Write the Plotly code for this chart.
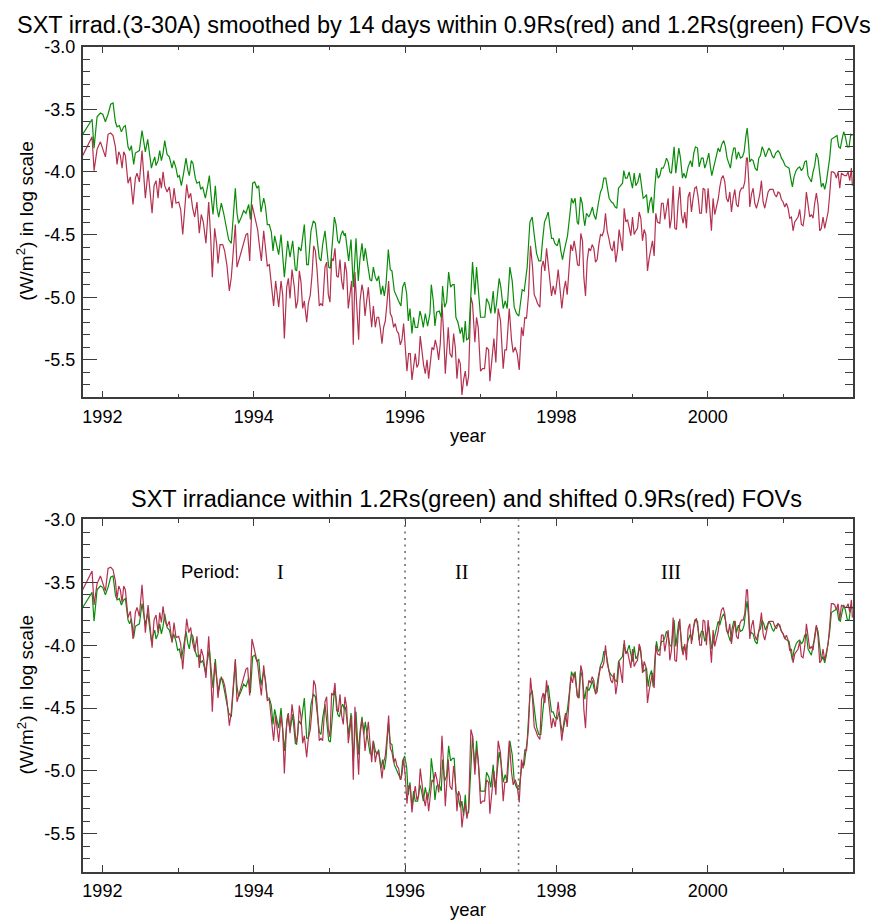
import numpy as np
import plotly.graph_objects as go

# ---------------- data ----------------
year_g = [1991.74, 1991.864, 1991.890, 1991.930, 1991.974, 1992.005, 1992.040, 1992.075, 1992.110, 1992.141,
          1992.172, 1992.194, 1992.225, 1992.251, 1992.282, 1992.304, 1992.339, 1992.361, 1992.383, 1992.414,
          1992.436, 1992.458, 1992.489, 1992.524, 1992.546, 1992.568, 1992.599, 1992.626, 1992.648, 1992.665,
          1992.692, 1992.709, 1992.736, 1992.758, 1992.780, 1992.802, 1992.824, 1992.855, 1992.885, 1992.921,
          1992.943, 1992.973, 1992.995, 1993.017, 1993.044, 1993.074, 1993.105, 1993.131, 1993.149, 1993.175,
          1993.197, 1993.228, 1993.250, 1993.281, 1993.299, 1993.325, 1993.361, 1993.392, 1993.414, 1993.440,
          1993.462, 1993.493, 1993.515, 1993.537, 1993.572, 1993.603, 1993.634, 1993.669, 1993.704, 1993.735,
          1993.757, 1993.779, 1993.801, 1993.837, 1993.867, 1993.898, 1993.934, 1993.956, 1993.986, 1994.013,
          1994.044, 1994.066, 1994.096, 1994.132, 1994.154, 1994.180, 1994.206, 1994.233, 1994.255, 1994.277,
          1994.330, 1994.361, 1994.405, 1994.449, 1994.480, 1994.515, 1994.550, 1994.568, 1994.594, 1994.625,
          1994.669, 1994.700, 1994.722, 1994.757, 1994.788, 1994.815, 1994.845, 1994.867, 1994.889, 1994.911,
          1994.942, 1994.964, 1994.991, 1995.013, 1995.035, 1995.066, 1995.088, 1995.110, 1995.132, 1995.154,
          1995.176, 1995.198, 1995.211, 1995.233, 1995.255, 1995.286, 1995.316, 1995.352, 1995.382, 1995.405,
          1995.431, 1995.453, 1995.475, 1995.506, 1995.537, 1995.559, 1995.581, 1995.607, 1995.629, 1995.651,
          1995.682, 1995.704, 1995.726, 1995.748, 1995.779, 1995.805, 1995.827, 1995.858, 1995.889, 1995.915,
          1995.946, 1995.968, 1995.995, 1996.021, 1996.043, 1996.065, 1996.091, 1996.113, 1996.135, 1996.166,
          1996.197, 1996.219, 1996.241, 1996.268, 1996.298, 1996.329, 1996.347, 1996.373, 1996.395, 1996.417,
          1996.452, 1996.479, 1996.496, 1996.523, 1996.549, 1996.576, 1996.602, 1996.628, 1996.650, 1996.672,
          1996.699, 1996.730, 1996.752, 1996.774, 1996.796, 1996.813, 1996.840,
          1996.870, 1996.892, 1996.914, 1996.923, 1996.945, 1996.998, 1997.055, 1997.077, 1997.108, 1997.134,
          1997.165, 1997.187, 1997.209, 1997.244, 1997.266, 1997.297, 1997.324, 1997.350, 1997.385, 1997.416,
          1997.443, 1997.473, 1997.504, 1997.526, 1997.548, 1997.575, 1997.597, 1997.614, 1997.650, 1997.680,
          1997.707, 1997.738, 1997.768, 1997.795, 1997.817, 1997.843, 1997.870, 1997.892, 1997.914, 1997.936,
          1997.958, 1997.980, 1998.011, 1998.037, 1998.059, 1998.081, 1998.103, 1998.125, 1998.147, 1998.178,
          1998.200, 1998.222, 1998.248, 1998.275, 1998.292, 1998.319, 1998.341, 1998.363, 1998.376, 1998.398,
          1998.429, 1998.451, 1998.477, 1998.495, 1998.521, 1998.552, 1998.583, 1998.605, 1998.627, 1998.653,
          1998.671, 1998.697, 1998.728, 1998.750, 1998.777, 1998.799, 1998.821, 1998.847, 1998.874, 1998.891,
          1998.913, 1998.935, 1998.962, 1998.984, 1999.006, 1999.028, 1999.050, 1999.076, 1999.103, 1999.125,
          1999.147, 1999.169, 1999.191, 1999.213, 1999.235, 1999.257, 1999.279, 1999.301, 1999.323, 1999.345,
          1999.367, 1999.389, 1999.411, 1999.433, 1999.455, 1999.477, 1999.499, 1999.521, 1999.543, 1999.556,
          1999.578, 1999.600, 1999.618, 1999.640, 1999.666, 1999.684, 1999.710, 1999.741, 1999.772, 1999.794,
          1999.816, 1999.838, 1999.865, 1999.887, 1999.917, 1999.939, 1999.961, 1999.983, 2000.014, 2000.036,
          2000.054, 2000.080, 2000.107, 2000.138, 2000.160, 2000.186, 2000.212, 2000.234, 2000.256, 2000.278,
          2000.300, 2000.322, 2000.344, 2000.362, 2000.380, 2000.406, 2000.433, 2000.459, 2000.481, 2000.503,
          2000.521, 2000.538, 2000.556, 2000.578, 2000.600, 2000.626, 2000.653, 2000.675, 2000.697, 2000.719,
          2000.741, 2000.763, 2000.785, 2000.807, 2000.829, 2000.851, 2000.873, 2000.899, 2000.930, 2000.952,
          2000.974, 2000.996, 2001.023, 2001.049, 2001.075, 2001.097, 2001.119, 2001.141, 2001.168, 2001.190,
          2001.216, 2001.238, 2001.260, 2001.282, 2001.304, 2001.326, 2001.348, 2001.370, 2001.392, 2001.414,
          2001.436, 2001.458, 2001.480, 2001.502, 2001.524, 2001.546, 2001.568, 2001.591, 2001.612, 2001.634,
          2001.657, 2001.687, 2001.709, 2001.731, 2001.753, 2001.775, 2001.797, 2001.819, 2001.846, 2001.868,
          2001.890, 2001.912]
val_g = [-3.70, -3.58, -3.81, -3.56, -3.53, -3.54, -3.60, -3.54, -3.46, -3.45,
         -3.60, -3.64, -3.63, -3.68, -3.64, -3.63, -3.80, -3.83, -3.79, -3.94,
         -3.85, -3.84, -3.83, -3.67, -3.78, -3.84, -3.74, -3.85, -3.97, -3.93,
         -3.88, -3.95, -3.91, -3.83, -3.91, -3.85, -3.75, -3.86, -3.88, -3.97,
         -3.91, -3.97, -4.04, -4.03, -4.11, -4.01, -3.89, -3.99, -4.03, -3.91,
         -3.93, -4.05, -4.09, -4.08, -4.14, -4.12, -4.21, -4.11, -4.03, -4.21,
         -4.34, -4.11, -4.29, -4.36, -4.25, -4.33, -4.42, -4.54, -4.57, -4.34,
         -4.13, -4.33, -4.41, -4.36, -4.31, -4.33, -4.26, -4.38, -4.09, -4.08,
         -4.13, -4.11, -4.32, -4.21, -4.27, -4.42, -4.42, -4.48, -4.63, -4.51,
         -4.66, -4.50, -4.84, -4.55, -4.68, -4.55, -4.78, -4.79, -4.60, -4.63,
         -4.42, -4.74, -4.74, -4.47, -4.39, -4.41, -4.58, -4.69, -4.71, -4.58,
         -4.47, -4.63, -4.76, -4.77, -4.58, -4.36, -4.42, -4.55, -4.57, -4.50,
         -4.47, -4.51, -4.49, -4.58, -4.71, -4.54, -4.92, -4.53, -4.87, -4.69,
         -4.57, -4.71, -4.61, -4.74, -4.86, -4.87, -4.76, -4.84, -4.87, -4.83,
         -4.98, -4.91, -4.99, -4.90, -4.62, -4.78, -4.79, -4.95, -5.00, -5.03,
         -5.07, -4.92, -4.88, -4.97, -5.19, -5.09, -5.29, -5.16, -5.24, -5.24,
         -5.11, -5.16, -5.24, -5.13, -5.23, -5.13, -4.90, -5.03, -5.23, -5.12,
         -5.11, -5.16, -4.91, -5.08, -5.04, -4.80, -4.92, -4.90, -4.90, -5.16,
         -5.20, -5.29, -5.24, -5.36, -5.19, -5.34, -5.33,
         -4.98, -4.72, -4.90, -4.98, -4.76, -5.16, -5.16, -5.01, -5.05, -5.13,
         -4.95, -5.13, -5.05, -4.85, -4.92, -5.09, -5.03, -5.09, -4.76, -4.87,
         -5.08, -5.13, -5.15, -5.05, -4.94, -4.95, -4.84, -4.76, -4.40, -4.36,
         -4.50, -4.65, -4.71, -4.71, -4.55, -4.40, -4.36, -4.32, -4.43, -4.53,
         -4.53, -4.57, -4.59, -4.53, -4.63, -4.70, -4.63, -4.57, -4.51, -4.34,
         -4.21, -4.25, -4.21, -4.40, -4.42, -4.20, -4.25, -4.38, -4.43, -4.33,
         -4.36, -4.33, -4.28, -4.34, -4.38, -4.26, -4.16, -4.13, -4.05, -4.05,
         -4.13, -4.21, -4.24, -4.25, -4.28, -4.29, -4.13, -4.11, -4.09, -3.99,
         -4.05, -4.05, -4.00, -4.07, -4.13, -4.01, -4.11, -4.08, -4.01, -4.11,
         -4.21, -4.20, -4.18, -4.33, -4.24, -4.20, -4.33, -4.12, -3.97, -4.05,
         -4.03, -3.97, -3.97, -3.94, -3.89, -3.92, -4.00, -4.01, -3.88, -3.80,
         -4.01, -3.89, -3.81, -3.89, -4.05, -4.01, -4.05, -3.96, -3.91, -3.96,
         -3.85, -3.80, -3.81, -3.96, -3.89, -3.89, -3.97, -3.93, -3.85, -3.96,
         -4.03, -3.96, -3.89, -3.81, -3.84, -3.78, -3.75, -3.80, -3.89, -3.93,
         -3.97, -3.87, -3.81, -3.81, -3.90, -3.84, -3.89, -3.88, -3.84, -3.72,
         -3.65, -3.76, -3.92, -3.90, -3.91, -3.97, -3.99, -3.89, -3.87, -3.80,
         -3.83, -3.88, -3.84, -3.81, -3.83, -3.87, -3.89, -3.85, -3.83, -3.85,
         -3.89, -3.91, -3.95, -3.96, -3.97, -4.05, -4.12, -4.04, -3.99, -3.97,
         -3.96, -3.99, -3.97, -3.92, -3.91, -4.03, -4.05, -4.08, -4.00, -3.95,
         -3.85, -3.89, -4.01, -4.12, -4.09, -4.14, -4.08, -3.99, -3.89, -3.74,
         -3.73, -3.72, -3.71, -3.80, -3.81, -3.74, -3.68, -3.72, -3.80, -3.80,
         -3.70, -3.71]

year_r = [1991.74, 1991.864, 1991.890, 1991.930, 1991.974, 1992.005, 1992.040, 1992.075, 1992.110, 1992.141,
          1992.172, 1992.194, 1992.216, 1992.238, 1992.260, 1992.282, 1992.304, 1992.339, 1992.370, 1992.405,
          1992.436, 1992.458, 1992.489, 1992.524, 1992.546, 1992.568, 1992.604, 1992.630, 1992.657, 1992.683,
          1992.709, 1992.736, 1992.758, 1992.780, 1992.802, 1992.824, 1992.855, 1992.885, 1992.921, 1992.947,
          1992.973, 1993.009, 1993.035, 1993.062, 1993.088, 1993.114, 1993.141, 1993.167, 1993.193, 1993.220,
          1993.250, 1993.281, 1993.307, 1993.334, 1993.369, 1993.405, 1993.432, 1993.453, 1993.484, 1993.511,
          1993.528, 1993.555, 1993.590, 1993.616, 1993.647, 1993.678, 1993.704, 1993.735, 1993.757, 1993.779,
          1993.801, 1993.837, 1993.867, 1993.898, 1993.920, 1993.947, 1993.977, 1994.004, 1994.030, 1994.052,
          1994.074, 1994.101, 1994.132, 1994.154, 1994.180, 1994.206, 1994.233, 1994.263, 1994.290,
          1994.330, 1994.361, 1994.383, 1994.405, 1994.436, 1994.458, 1994.480, 1994.506, 1994.537, 1994.559,
          1994.581, 1994.603, 1994.625, 1994.647, 1994.669, 1994.700, 1994.722, 1994.748, 1994.771, 1994.793,
          1994.815, 1994.837, 1994.867, 1994.889, 1994.911, 1994.942, 1994.964, 1994.986, 1995.008, 1995.030,
          1995.052, 1995.074, 1995.096, 1995.118, 1995.140, 1995.162, 1995.184, 1995.206, 1995.228, 1995.250,
          1995.272, 1995.294, 1995.316, 1995.338, 1995.360, 1995.387, 1995.405, 1995.431, 1995.449, 1995.471,
          1995.493, 1995.515, 1995.537, 1995.559, 1995.581, 1995.607, 1995.629, 1995.651, 1995.673, 1995.695,
          1995.717, 1995.739, 1995.761, 1995.783, 1995.805, 1995.827, 1995.849, 1995.871, 1995.893, 1995.915,
          1995.937, 1995.959, 1995.981, 1996.003, 1996.025, 1996.047, 1996.069, 1996.091, 1996.113, 1996.135,
          1996.157, 1996.179, 1996.201, 1996.224, 1996.245, 1996.268, 1996.290, 1996.312, 1996.334, 1996.356,
          1996.378, 1996.400, 1996.422, 1996.444, 1996.466, 1996.488, 1996.510, 1996.532, 1996.549, 1996.571,
          1996.593, 1996.620, 1996.642, 1996.664, 1996.686, 1996.708, 1996.730, 1996.752, 1996.774, 1996.796,
          1996.818, 1996.840,
          1996.870, 1996.892, 1996.923, 1996.945, 1996.967, 1996.998, 1997.024, 1997.051, 1997.077, 1997.104,
          1997.121, 1997.143, 1997.174, 1997.200, 1997.231, 1997.262, 1997.297, 1997.319, 1997.341, 1997.377,
          1997.407, 1997.429, 1997.456, 1997.482, 1997.509, 1997.539, 1997.561, 1997.583, 1997.605, 1997.632,
          1997.658, 1997.685, 1997.707, 1997.729, 1997.751, 1997.782, 1997.804, 1997.826, 1997.848, 1997.870,
          1997.892, 1997.914, 1997.936, 1997.958, 1997.984, 1998.002, 1998.024, 1998.046, 1998.072, 1998.099,
          1998.121, 1998.143, 1998.169, 1998.191, 1998.213, 1998.235, 1998.257, 1998.279, 1998.301, 1998.323,
          1998.345, 1998.363, 1998.385, 1998.407, 1998.429, 1998.451, 1998.473, 1998.495, 1998.517, 1998.539,
          1998.561, 1998.583, 1998.605, 1998.627, 1998.649, 1998.671, 1998.697, 1998.719, 1998.741, 1998.763,
          1998.785, 1998.807, 1998.829, 1998.851, 1998.874, 1998.896, 1998.918, 1998.940, 1998.962, 1998.984,
          1999.006, 1999.028, 1999.050, 1999.072, 1999.094, 1999.116, 1999.138, 1999.160, 1999.182, 1999.204,
          1999.226, 1999.248, 1999.270, 1999.292, 1999.314, 1999.336,
          1999.367, 1999.389, 1999.411, 1999.433, 1999.455, 1999.477, 1999.499, 1999.521, 1999.543, 1999.565,
          1999.587, 1999.609, 1999.631, 1999.653, 1999.675, 1999.697, 1999.719, 1999.741, 1999.763, 1999.785,
          1999.807, 1999.829, 1999.851, 1999.873, 1999.895, 1999.917, 1999.939, 1999.961, 1999.983, 2000.005,
          2000.027, 2000.049, 2000.071, 2000.093, 2000.115, 2000.138, 2000.160, 2000.182, 2000.204, 2000.226,
          2000.248, 2000.270, 2000.292, 2000.314, 2000.336, 2000.358, 2000.380, 2000.402, 2000.424, 2000.446,
          2000.468, 2000.490, 2000.512, 2000.525, 2000.543, 2000.556, 2000.578, 2000.600, 2000.622, 2000.644,
          2000.666, 2000.688, 2000.710, 2000.732, 2000.754, 2000.776, 2000.798, 2000.820, 2000.864, 2000.886,
          2000.908, 2000.930, 2000.952, 2000.974, 2000.996, 2001.018, 2001.040, 2001.062, 2001.084, 2001.106,
          2001.128, 2001.150, 2001.172, 2001.194, 2001.216, 2001.238, 2001.260, 2001.282, 2001.304, 2001.326,
          2001.348, 2001.370, 2001.392, 2001.414, 2001.436, 2001.458, 2001.480, 2001.502, 2001.524, 2001.546,
          2001.568, 2001.591, 2001.612, 2001.634, 2001.657, 2001.679, 2001.700, 2001.723, 2001.745, 2001.767,
          2001.789, 2001.811, 2001.833, 2001.855, 2001.877, 2001.899, 2001.912]
val_r = [-3.87, -3.72, -3.99, -3.82, -3.76, -3.81, -3.88, -3.70, -3.69, -3.71,
         -3.80, -3.94, -3.84, -3.87, -3.97, -3.84, -3.87, -4.09, -4.04, -4.26,
         -4.05, -4.01, -4.08, -3.83, -4.00, -4.21, -3.99, -4.16, -4.33, -4.11,
         -4.07, -4.21, -4.05, -4.13, -4.00, -4.11, -4.16, -4.12, -4.29, -4.13,
         -4.25, -4.24, -4.30, -4.50, -4.26, -4.10, -4.21, -4.17, -4.29, -4.36,
         -4.24, -4.49, -4.34, -4.40, -4.57, -4.24, -4.53, -4.84, -4.45, -4.58,
         -4.73, -4.58, -4.58, -4.63, -4.75, -4.95, -4.84, -4.61, -4.42, -4.76,
         -4.71, -4.65, -4.58, -4.50, -4.49, -4.71, -4.26, -4.33, -4.42, -4.46,
         -4.58, -4.71, -4.47, -4.58, -4.75, -4.74, -4.92, -5.07, -4.87,
         -5.08, -4.87, -4.98, -5.33, -4.92, -4.85, -5.01, -4.78, -4.92, -5.09,
         -5.03, -4.79, -4.88, -5.09, -5.03, -5.20, -5.05, -4.98, -4.82, -4.59,
         -4.63, -4.78, -5.07, -5.05, -5.07, -4.76, -4.72, -4.98, -5.04, -4.69,
         -4.71, -4.61, -4.83, -4.84, -4.70, -4.87, -4.94, -4.72, -4.80, -5.09,
         -4.98, -4.87, -5.38, -4.80, -5.05, -5.34, -5.03, -4.90, -4.96, -5.15,
         -5.03, -4.92, -5.09, -5.24, -5.07, -5.24, -5.16, -5.16, -5.25, -5.37,
         -5.24, -5.19, -5.05, -4.87, -5.13, -5.16, -5.24, -5.21, -5.27, -5.29,
         -5.38, -5.34, -5.21, -5.37, -5.59, -5.45, -5.45, -5.66, -5.54, -5.45,
         -5.56, -5.53, -5.31, -5.45, -5.54, -5.61, -5.50, -5.65, -5.53, -5.40,
         -5.42, -5.34, -5.40, -5.50, -5.37, -5.05, -5.29, -5.61, -5.45, -5.24,
         -5.45, -5.48, -5.29, -5.40, -5.65, -5.49, -5.53, -5.78, -5.66, -5.59,
         -5.71, -5.63,
         -5.00, -5.05, -5.36, -5.16, -5.24, -5.59, -5.57, -5.57, -5.40, -5.42,
         -5.67, -5.53, -5.33, -5.52, -5.09, -5.19, -5.57, -5.42, -5.42, -5.09,
         -5.34, -5.44, -5.40, -5.45, -5.58, -5.24, -5.31, -5.16, -5.17, -4.98,
         -4.59, -4.76, -4.98, -5.01, -5.05, -5.08, -4.76, -4.71, -4.79, -4.61,
         -4.74, -4.88, -4.99, -4.91, -4.98, -4.90, -4.78, -4.92, -5.09, -4.94,
         -4.87, -4.98, -4.76, -4.58, -4.63, -4.55, -4.63, -4.74, -4.75, -4.49,
         -4.55, -4.84, -4.99, -4.71, -4.61, -4.63, -4.58, -4.61, -4.72, -4.70,
         -4.58, -4.50, -4.51, -4.47, -4.33, -4.47, -4.54, -4.61, -4.63, -4.55,
         -4.72, -4.63, -4.46, -4.55, -4.63, -4.29, -4.40, -4.38, -4.45, -4.51,
         -4.36, -4.50, -4.47, -4.45, -4.32, -4.37, -4.55, -4.46, -4.50, -4.79,
         -4.69, -4.63, -4.55, -4.67, -4.33, -4.40,
         -4.41, -4.25, -4.25, -4.38, -4.30, -4.21, -4.45, -4.37, -4.11, -4.45,
         -4.46, -4.24, -4.12, -4.34, -4.41, -4.32, -4.45, -4.20, -4.16, -4.32,
         -4.21, -4.13, -4.12, -4.20, -4.33, -4.33, -4.13, -4.14, -4.33, -4.13,
         -4.29, -4.47, -4.21, -4.34, -4.28, -4.22, -4.12, -4.05, -4.03, -4.08,
         -4.21, -4.24, -4.16, -4.32, -4.21, -4.14, -4.26, -4.28, -4.16, -4.13,
         -4.13, -4.08, -3.89, -3.89, -4.08, -4.28, -4.18, -4.13, -4.25, -4.29,
         -4.24, -4.18, -4.07, -4.24, -4.29, -4.22, -4.16, -4.14, -4.14, -4.18,
         -4.20, -4.16, -4.17, -4.22, -4.24, -4.28, -4.25, -4.29, -4.37, -4.36,
         -4.47, -4.40, -4.38, -4.36, -4.30, -4.42, -4.43, -4.34, -4.16, -4.26,
         -4.36, -4.34, -4.37, -4.25, -4.17, -4.26, -4.47, -4.45, -4.36, -4.45,
         -4.37, -4.32, -4.18, -4.00, -4.00, -4.01, -4.05, -4.00, -4.13, -4.01,
         -4.02, -4.03, -4.03, -4.00, -4.07, -3.97, -4.11]

# period boundaries (years) and the offset applied to the 0.9Rs series in each period
period_bounds = [1996.0, 1997.5]
period_shift = [0.31, 0.33, 0.33]
period_names = ["I", "II", "III"]
period_label_x = [1994.36, 1996.75, 1999.52]

x_tick_vals = [1992, 1994, 1996, 1998, 2000]
x_tick_text = ["1992", "1994", "1996", "1998", "2000"]
y_tick_vals = [-3.0, -3.5, -4.0, -4.5, -5.0, -5.5]
y_tick_text = ["-3.0", "-3.5", "-4.0", "-4.5", "-5.0", "-5.5"]

title_top = "SXT irrad.(3-30A) smoothed by 14 days within 0.9Rs(red) and 1.2Rs(green) FOVs"
title_bot = "SXT irradiance within 1.2Rs(green) and shifted 0.9Rs(red) FOVs"
y_title = "(W/m<sup>2</sup>) in log scale"
x_title = "year"

# ---------------- derived: shifted red series ----------------
yr = np.array(year_r)
vr = np.array(val_r)
shift = np.where(yr < period_bounds[0], period_shift[0],
                 np.where(yr < period_bounds[1], period_shift[1], period_shift[2]))
vr_shift = vr + shift

GREEN = "#0a8c0a"
RED = "#b3304e"
AX = "#3c3c3c"
FONT = "Liberation Sans, Arial, Helvetica, sans-serif"

fig = go.Figure()
fig.add_trace(go.Scatter(x=year_r, y=val_r, mode="lines", line=dict(color=RED, width=1.2),
                         xaxis="x", yaxis="y", showlegend=False))
fig.add_trace(go.Scatter(x=year_g, y=val_g, mode="lines", line=dict(color=GREEN, width=1.2),
                         xaxis="x", yaxis="y", showlegend=False))
fig.add_trace(go.Scatter(x=year_g, y=val_g, mode="lines", line=dict(color=GREEN, width=1.2),
                         xaxis="x2", yaxis="y2", showlegend=False))
fig.add_trace(go.Scatter(x=yr, y=vr_shift, mode="lines", line=dict(color=RED, width=1.2),
                         xaxis="x2", yaxis="y2", showlegend=False))

W, H = 881, 924
xl, xr = 82.7, 853.0
dom_x = [xl / W, xr / W]
top_dom = [(H - 391.7) / H, (H - 37.0) / H]
bot_dom = [(H - 871.0) / H, (H - 515.0) / H]


def xaxis(domain_anchor):
    return dict(range=[1991.74, 2001.92], domain=dom_x, anchor=domain_anchor,
                tickmode="array", tickvals=x_tick_vals, ticktext=x_tick_text,
                ticks="inside", ticklen=7, tickwidth=1.2, tickcolor=AX,
                showline=True, linecolor=AX, linewidth=1.5, mirror="ticks",
                showgrid=False, zeroline=False,
                minor=dict(tickmode="linear", tick0=1992, dtick=1, ticks="inside",
                           ticklen=4, tickwidth=1.2, tickcolor=AX, showgrid=False),
                tickfont=dict(family=FONT, size=18, color="black"),
                ticklabelstandoff=2)


def yaxis(domain, anchor):
    return dict(range=[-5.8, -3.0], domain=domain, anchor=anchor,
                tickmode="array", tickvals=y_tick_vals, ticktext=y_tick_text,
                ticks="inside", ticklen=15, tickwidth=1.2, tickcolor=AX,
                showline=True, linecolor=AX, linewidth=1.5, mirror="ticks",
                showgrid=False, zeroline=False,
                minor=dict(tickmode="linear", tick0=-3.0, dtick=0.1, ticks="inside",
                           ticklen=8, tickwidth=1.2, tickcolor=AX, showgrid=False),
                tickfont=dict(family=FONT, size=18, color="black"),
                ticklabelstandoff=2)


shapes = []
for b in period_bounds:
    shapes.append(dict(type="line", xref="x2", yref="y2 domain", x0=b, x1=b, y0=0, y1=1,
                       line=dict(color="#707070", width=1.6, dash="2px,4.5px")))

ann = []
ann.append(dict(text=title_top, x=444 / W, y=(H - 15) / H, xref="paper", yref="paper",
                showarrow=False, xanchor="center", yanchor="middle",
                font=dict(family=FONT, size=23.5, color="black")))
ann.append(dict(text=title_bot, x=466.5 / W, y=(H - 494) / H, xref="paper", yref="paper",
                showarrow=False, xanchor="center", yanchor="middle",
                font=dict(family=FONT, size=23.5, color="black")))
for yc in [214.0, 693.0]:
    ann.append(dict(text=y_title, x=25 / W, y=(H - yc) / H, xref="paper", yref="paper",
                    showarrow=False, xanchor="center", yanchor="middle", textangle=-90,
                    font=dict(family=FONT, size=19, color="black")))
for yc in [430.5, 909.5]:
    ann.append(dict(text=x_title, x=468 / W, y=(H - yc) / H, xref="paper", yref="paper",
                    showarrow=False, xanchor="center", yanchor="middle",
                    font=dict(family=FONT, size=18.5, color="black")))
ann.append(dict(text="Period:", x=210.5 / W, y=(H - 568) / H, xref="paper", yref="paper",
                showarrow=False, xanchor="center", yanchor="middle",
                font=dict(family=FONT, size=18.5, color="black")))
for name, px in zip(period_names, period_label_x):
    ann.append(dict(text=name, x=px, y=(H - 568) / H, xref="x2", yref="paper",
                    showarrow=False, xanchor="center", yanchor="middle",
                    font=dict(family="Liberation Serif, Times New Roman, serif", size=20, color="black")))

fig.update_layout(
    width=W, height=H, autosize=False,
    margin=dict(l=0, r=0, t=0, b=0),
    paper_bgcolor="white", plot_bgcolor="white",
    xaxis=xaxis("y"), yaxis=yaxis(top_dom, "x"),
    xaxis2=xaxis("y2"), yaxis2=yaxis(bot_dom, "x2"),
    shapes=shapes, annotations=ann, showlegend=False,
)

fig.write_html("out.html", config={"displayModeBar": False},
               post_script="document.body.style.margin='0px';document.body.style.overflow='hidden';")
